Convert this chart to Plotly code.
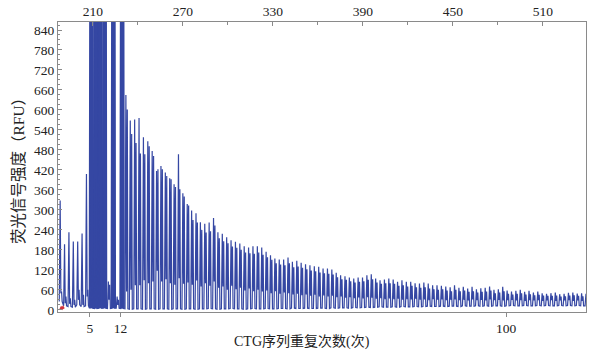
import plotly.graph_objects as go

# ---------------- data ----------------
repeats = list(range(-2, 119))  # CTG repeat number of each stutter unit

# main peak height of each repeat unit (RFU); 1500 = off scale (saturated)
peak_a = [328, 197, 233, 205, 205, 229, 408,
          1500, 1500, 1500, 1500, 85, 1500, 40, 1500,
          645, 568, 571, 576, 518, 506, 477, 417, 432, 412, 395, 377, 467, 350, 318,
          298, 290, 263, 258, 262, 276, 233, 228, 218, 209, 204, 199, 191, 187, 191, 191, 187, 174, 164, 154,
          151, 151, 157, 144, 147, 141, 137, 134, 131, 129, 124, 124, 121, 111, 104, 101, 97, 94, 97, 97,
          104, 107, 94, 89, 91, 94, 91, 84, 89, 84, 84, 80, 79, 82, 79, 74, 74, 72, 70, 68,
          74, 66, 69, 64, 69, 62, 65, 66, 70, 60, 62, 69, 58, 55, 57, 60, 54, 57, 52, 55,
          50, 48, 50, 52, 47, 48, 51, 52, 49, 50, 48]

# second (shoulder) peak of each repeat unit (RFU)
peak_b = [55, 40, 35, 30, 60, 45, 60,
          1500, 1500, 1500, 1500, 75, 1500, 30, 1500,
          601, 528, 501, 469, 467, 491, 462, 422, 422, 402, 392, 369, 362, 340, 313,
          270, 262, 240, 232, 236, 253, 215, 206, 200, 190, 186, 180, 172, 170, 168, 172, 165, 158, 150, 140,
          136, 134, 140, 128, 130, 126, 122, 118, 116, 112, 110, 108, 106, 98, 92, 90, 86, 82, 84, 86,
          90, 92, 82, 78, 80, 80, 78, 72, 74, 70, 72, 68, 66, 68, 64, 62, 60, 62, 58, 56,
          60, 56, 58, 54, 56, 52, 54, 55, 58, 50, 52, 56, 48, 46, 48, 50, 46, 47, 44, 45,
          43, 42, 42, 43, 40, 41, 43, 44, 42, 41, 40]

# valley between the two peaks of a unit (RFU)
valley = [50, 20, 18, 15, 30, 15, 40,
          134, 119, 80, 60, 30, 795, 15, 40,
          55, 60, 74, 74, 89, 80, 85, 117, 85, 92, 80, 75, 95, 78, 82,
          75, 88, 70, 80, 72, 85, 66, 70, 60, 72, 62, 66, 58, 64, 56, 60, 55, 58, 50, 56,
          48, 52, 50, 46, 48, 44, 46, 42, 45, 40, 43, 40, 42, 38, 40, 36, 38, 35, 37, 34,
          38, 36, 33, 35, 32, 34, 32, 33, 30, 32, 31, 33, 30, 31, 29, 32, 30, 31, 29, 30,
          31, 29, 30, 28, 31, 29, 30, 28, 31, 29, 30, 28, 29, 30, 28, 29, 27, 29, 28, 29,
          27, 28, 29, 27, 28, 28, 29, 27, 28, 27, 28]

# baseline level between units (RFU)
baseline = [25, 12, 10, 8, 15, 10, 12,
            5, 4, 5, 5, 4, 5, 5, 4,
            3, 2, 3, 3, 2, 3, 3, 2, 3, 3, 2, 3, 3, 2, 3,
            3, 2, 3, 3, 4, 3, 2, 3, 3, 4, 3, 3, 2, 3, 4, 3, 3, 4, 3, 3,
            4, 4, 3, 5, 4, 4, 5, 4, 4, 5, 5, 4, 6, 5, 6, 6, 5, 7, 6, 7,
            8, 7, 8, 9, 8, 8, 9, 8, 10, 9, 9, 10, 9, 10, 11, 10, 10, 11, 10, 11,
            11, 10, 12, 11, 11, 12, 11, 12, 11, 12, 12, 11, 12, 13, 12, 12, 13, 12, 12, 13,
            12, 13, 12, 12, 13, 12, 13, 12, 13, 12, 12]

# small red (second dye) blip at the start
red_x = [-1.75, -1.55, -1.35, -1.15, -0.95]
red_y = [2, 7, 4, 8, 3]

bp_ticks = [210, 270, 330, 390, 450, 510]   # top axis (size, bp)
repeat_ticks = [5, 12, 100]                # bottom axis (CTG repeats)

SAT = 864  # top of the visible scale; taller peaks are saturated

# ---------------- build the electropherogram line ----------------
# shape of one stutter unit, as fractions of one repeat step (style only)
off_start, off_a, off_t, off_b, off_end = 0.0, 0.205, 0.364, 0.524, 0.661
xs, ys = [], []
sat_x, sat_y = [], []
for n, a, b, t, g in zip(repeats, peak_a, peak_b, valley, baseline):
    px = [n + off_start, n + off_a, n + off_t, n + off_b, n + off_end]
    py = [g, a, t, b, g]
    xs += px
    ys += py
    if a > SAT and b > SAT:
        sat_x += px + [None]
        sat_y += py + [None]

FONT = "Liberation Serif"
CJK = "Liberation Serif, Noto Sans CJK SC"
BLUE = "#3547a3"

fig = go.Figure()
# saturated (off-scale) peaks are drawn as solid, broader columns
fig.add_trace(go.Scatter(x=sat_x, y=sat_y, mode="lines", fill="toself",
                         fillcolor=BLUE, line=dict(color=BLUE, width=2.6),
                         hoverinfo="skip", showlegend=False))
fig.add_trace(go.Scatter(x=xs, y=ys, mode="lines",
                         line=dict(color=BLUE, width=1.2),
                         hoverinfo="skip", showlegend=False))
fig.add_trace(go.Scatter(x=red_x, y=red_y, mode="lines",
                         line=dict(color="#d2323c", width=2),
                         hoverinfo="skip", showlegend=False))
# trace on the top (bp) axis so it is drawn
fig.add_trace(go.Scatter(x=bp_ticks, y=[None] * len(bp_ticks), xaxis="x2",
                         mode="lines", hoverinfo="skip", showlegend=False))

axis_col = "#8a8a8a"
fig.update_layout(
    width=591, height=354,
    margin=dict(l=58, r=4, t=20, b=42),
    paper_bgcolor="white", plot_bgcolor="white",
    showlegend=False,
    font=dict(family=FONT, size=13.5, color="#222"),
    xaxis=dict(range=[-2.289, 118.21], tickmode="array", tickvals=repeat_ticks,
               ticktext=[str(v) for v in repeat_ticks],
               ticks="outside", ticklen=4, tickcolor=axis_col,
               tickfont=dict(family=FONT, size=13.5),
               showline=True, linecolor=axis_col, linewidth=1,
               showgrid=False, zeroline=False),
    xaxis2=dict(range=[186.7, 538.7], overlaying="x", side="top", anchor="y",
                tick0=210, dtick=60, ticks="inside", ticklen=4, tickcolor=axis_col,
                tickfont=dict(family=FONT, size=13.5),
                minor=dict(tick0=0, dtick=30, ticks="inside", ticklen=3, tickcolor=axis_col),
                showline=True, linecolor=axis_col, linewidth=1,
                showgrid=False, zeroline=False),
    yaxis=dict(range=[-6.5, 864], tick0=0, dtick=60,
               ticks="inside", ticklen=4, tickcolor=axis_col,
               tickfont=dict(family=FONT, size=13.5),
               minor=dict(tick0=0, dtick=15, ticks="inside", ticklen=2, tickcolor=axis_col),
               showline=True, mirror=True, linecolor=axis_col, linewidth=1,
               showgrid=False, zeroline=False),
    annotations=[
        dict(text="荧光信号强度（RFU）", xref="paper", yref="paper",
             x=-0.0756, y=0.5, xanchor="center", yanchor="middle",
             showarrow=False, textangle=-90,
             font=dict(size=15.5, family=CJK, color="#222")),
        dict(text="CTG序列重复次数(次)", xref="paper", yref="paper",
             x=0.463, y=-0.103, xanchor="center", yanchor="middle",
             showarrow=False,
             font=dict(size=14, family=CJK, color="#222")),
    ],
)

fig.write_html("out.html")
